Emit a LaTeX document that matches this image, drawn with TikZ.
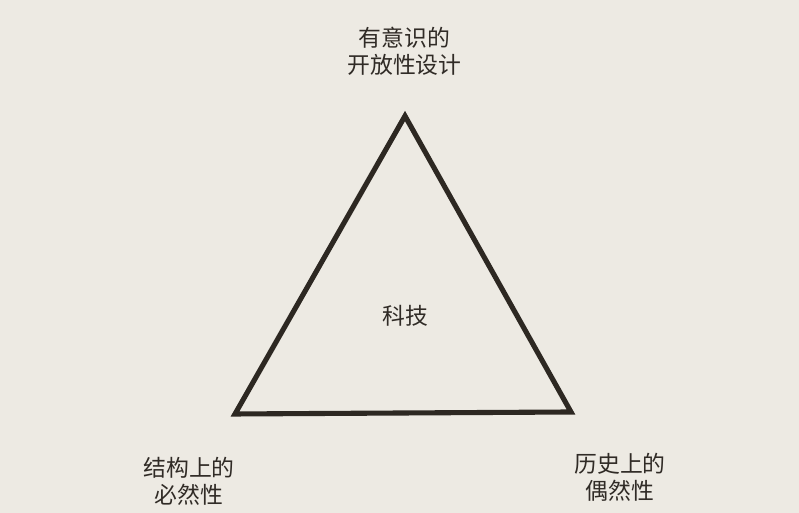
\documentclass[tikz,border=0pt]{standalone}
\usepackage{fontspec}
\newfontfamily\cjk{Noto Sans CJK SC}
\usepackage{tikz}
\usetikzlibrary{positioning}
\usepackage{xcolor}
\definecolor{tgpaper}{RGB}{237,234,227}
\definecolor{tgink}{RGB}{48,43,38}
\definecolor{tgline}{RGB}{45,40,34}
\tikzstyle{cjklabel} = [align=center, text=tgink, font=\cjk\fontsize{13pt}{15.5pt}\selectfont, inner sep=0pt]
\tikzstyle{edge} = [line width=2.9pt, color=tgline, line join=miter]

\begin{document}
\begin{tikzpicture}
% Paper
\fill[tgpaper] (0,0) rectangle (15.98,10.26);
\useasboundingbox (0,0) rectangle (15.98,10.26);

% Corners
\coordinate (apex) at (8.10,7.94);
\coordinate (lcorner) at (4.70,1.98);
\coordinate (rcorner) at (11.42,2.02);

% Triangle
\draw[edge] (apex) -- (lcorner) -- (rcorner) -- cycle;

% Labels
\node[cjklabel] (design) at (8.09,9.23) {有意识的\\开放性设计};
\node[cjklabel] (tech) at (8.10,3.94) {科技};
\node[cjklabel] (necessity) at (3.78,0.64) {结构上的\\必然性};
\node[cjklabel] (chance) at (12.40,0.72) {历史上的\\偶然性};
\end{tikzpicture}
\end{document}
